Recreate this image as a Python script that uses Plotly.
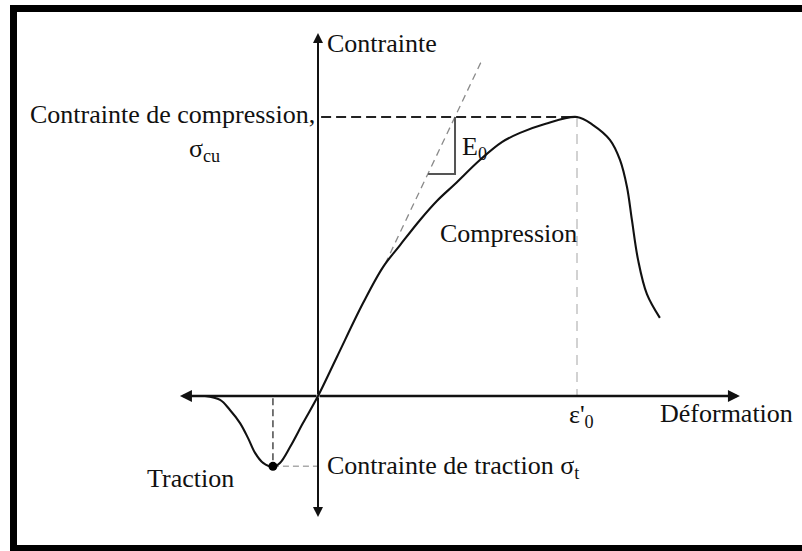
import plotly.graph_objects as go

# Normalised units: strain / eps'0 and stress / sigma_cu
curve_strain = [-0.436, -0.378, -0.340, -0.301, -0.270, -0.243, -0.212, -0.174,
                -0.147, -0.108, -0.058, 0.0,
                0.073, 0.174, 0.251, 0.317, 0.394, 0.459, 0.529, 0.625, 0.710,
                0.780, 0.876, 1.0,
                1.062, 1.127, 1.166, 1.193, 1.212, 1.236, 1.270, 1.320]
curve_stress = [0.0, -0.014, -0.050, -0.097, -0.151, -0.204, -0.240, -0.254,
                -0.240, -0.183, -0.097, 0.0,
                0.140, 0.333, 0.462, 0.541, 0.631, 0.699, 0.760, 0.846, 0.910,
                0.943, 0.975, 1.0,
                0.971, 0.918, 0.846, 0.749, 0.631, 0.487, 0.365, 0.280]

# peak compression and peak tension points
peak_strain, peak_stress = 1.0, 1.0
tension_strain, tension_stress = -0.174, -0.252

# initial tangent (E0)
tangent_strain = [0.259, 0.633]
tangent_stress = [0.473, 1.204]
triangle_strain = [0.425, 0.529, 0.529]
triangle_stress = [0.796, 0.796, 1.0]

# axis extents
x_axis = [-0.533, 1.629]
y_axis = [-0.434, 1.301]

FONT = "Liberation Serif"
INK = "#111111"

fig = go.Figure()

# tangent line
fig.add_trace(go.Scatter(x=tangent_strain, y=tangent_stress, mode="lines",
                         line=dict(color="#8a8a8a", width=1.3, dash="7px,5px")))
# guide lines to the peak
fig.add_trace(go.Scatter(x=[0.012, peak_strain], y=[peak_stress, peak_stress], mode="lines",
                         line=dict(color="#222222", width=2, dash="10px,5px")))
fig.add_trace(go.Scatter(x=[peak_strain, peak_strain], y=[peak_stress, 0], mode="lines",
                         line=dict(color="#c4c4c4", width=1.5, dash="10px,7px")))
# guide lines to the tension peak
fig.add_trace(go.Scatter(x=[tension_strain, tension_strain], y=[-0.008, tension_stress], mode="lines",
                         line=dict(color="#555555", width=1.6, dash="7px,4px")))
fig.add_trace(go.Scatter(x=[tension_strain, -0.004], y=[tension_stress, tension_stress], mode="lines",
                         line=dict(color="#aaaaaa", width=1.5, dash="6px,4px")))
# E0 triangle
fig.add_trace(go.Scatter(x=triangle_strain, y=triangle_stress, mode="lines",
                         line=dict(color="#555555", width=2)))
# stress-strain curve
fig.add_trace(go.Scatter(x=curve_strain, y=curve_stress, mode="lines",
                         line=dict(color=INK, width=2.1, shape="spline", smoothing=1.0)))
# tension peak marker
fig.add_trace(go.Scatter(x=[tension_strain], y=[tension_stress], mode="markers",
                         marker=dict(color="black", size=9)))

# axes with arrow heads at both ends
for tip_x, tip_y in [(x_axis[0], 0), (x_axis[1], 0)]:
    fig.add_annotation(x=tip_x, y=tip_y, ax=0, ay=0, axref="x", ayref="y",
                       showarrow=True, arrowhead=2, arrowsize=1.0, arrowwidth=2.4,
                       arrowcolor=INK, text="")
for tip_x, tip_y in [(0, y_axis[0]), (0, y_axis[1])]:
    fig.add_annotation(x=tip_x, y=tip_y, ax=0, ay=0, axref="x", ayref="y",
                       showarrow=True, arrowhead=2, arrowsize=1.0, arrowwidth=2,
                       arrowcolor=INK, text="")

labels = [
    ("Contrainte", 0.027, 1.262, "left"),
    ("Contrainte de compression,", -0.004, 1.008, "right"),
    ("σ<sub>cu</sub>", -0.440, 0.882, "center"),
    ("E<sub>0</sub>", 0.548, 0.889, "left"),
    ("Compression", 0.463, 0.584, "left"),
    ("ε'<sub>0</sub>", 1.019, -0.072, "center"),
    ("Déformation", 1.313, -0.061, "left"),
    ("Traction", -0.668, -0.294, "left"),
    ("Contrainte de traction σ<sub>t</sub>", 0.027, -0.254, "left"),
]
for text, x, y, anchor in labels:
    fig.add_annotation(x=x, y=y, text=text, showarrow=False, xanchor=anchor,
                       yanchor="middle", font=dict(family=FONT, size=26, color=INK))

# outer frame (right side runs off the page)
fig.add_shape(type="rect", xref="paper", yref="paper",
              x0=13.5 / 802, x1=1.06, y0=1 - 548.5 / 551, y1=1 - 8.5 / 551,
              line=dict(color="black", width=7))

fig.update_layout(
    width=802, height=551,
    margin=dict(l=0, r=0, t=0, b=0),
    paper_bgcolor="white", plot_bgcolor="white",
    showlegend=False,
    xaxis=dict(range=[-318 / 259, 484 / 259], visible=False),
    yaxis=dict(range=[-155 / 279, 396 / 279], visible=False),
)

fig.write_html("out.html")
